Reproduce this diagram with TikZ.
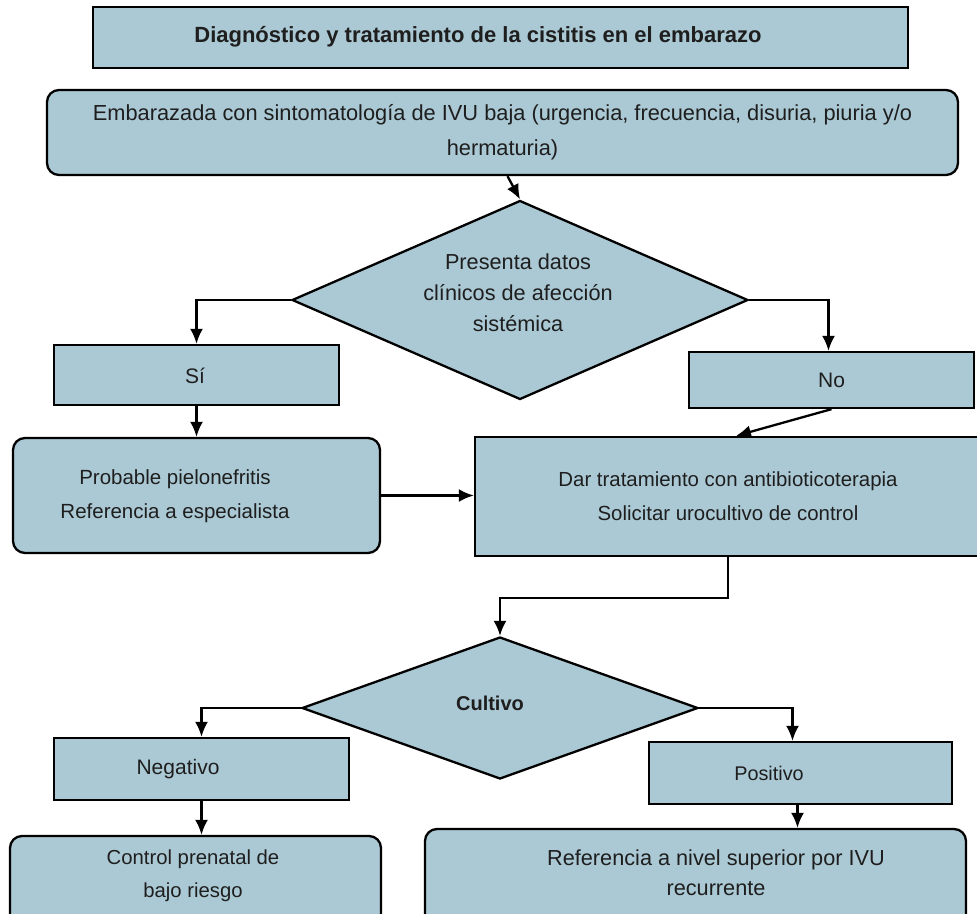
\documentclass[tikz,border=0pt]{standalone}
\usepackage{fontspec}
\setmainfont{Liberation Sans}
\usetikzlibrary{arrows.meta,shapes.geometric}
\definecolor{cajaazul}{HTML}{ABC9D4}
\definecolor{textogris}{HTML}{1E1E1E}

\begin{document}
\begin{tikzpicture}[x=1pt, y=-1pt,
    >={Latex[length=15pt,width=13pt]},
    linea/.style ={line width=2.3pt},
    caja/.style ={rectangle, draw, fill=cajaazul, line width=2.3pt, inner sep=0pt,
                  text=textogris, align=center, font=\fontsize{21}{34}\selectfont},
    redonda/.style ={caja, rounded corners=12pt},
    decision/.style ={diamond, draw, fill=cajaazul, line width=2.3pt, inner sep=0pt},
    texto/.style ={text=textogris, align=center, font=\fontsize{21}{34}\selectfont}]
   \useasboundingbox (0,0) rectangle (977,913);

   \node[caja, minimum width=815, minimum height=61, line width=2.8pt] (titulo) at (500.5,37.5) {};
   \node[texto, font=\fontsize{22}{34}\selectfont\bfseries] (titulotxt) at (478,37)
         {Diagnóstico y tratamiento de la cistitis en el embarazo};
   \node[redonda, minimum width=911, minimum height=85, font=\fontsize{21.8}{35}\selectfont] (sintomas) at (502.5,132.5)
         {Embarazada con sintomatología de IVU baja (urgencia, frecuencia, disuria, piuria y/o\\hermaturia)};

   \node[decision, minimum width=456, minimum height=199] (afeccion) at (520,300) {};
   \node[texto, font=\fontsize{21.7}{31}\selectfont] (afecciontxt) at (518,293)
         {Presenta datos\\clínicos de afección\\sistémica};

   \node[caja, minimum width=285, minimum height=60] (si) at (196.5,375) {};
   \node[texto] (sitxt) at (195,376) {Sí};
   \node[caja, minimum width=285, minimum height=56] (no) at (831.5,380) {No};

   \node[redonda, minimum width=367, minimum height=115] (pielo) at (196.5,495.5) {};
   \node[texto, font=\fontsize{20.5}{34}\selectfont] (pielotxt) at (175,496)
         {Probable pielonefritis\\Referencia a especialista};
   \node[caja, minimum width=506, minimum height=119, font=\fontsize{20.4}{34}\selectfont] (tratamiento) at (728,496.5)
         {Dar tratamiento con antibioticoterapia\\Solicitar urocultivo de control};

   \node[decision, minimum width=396, minimum height=142] (cultivo) at (500,708) {};
   \node[texto, font=\fontsize{20}{34}\selectfont\bfseries] (cultivotxt) at (490,703) {Cultivo};

   \node[caja, minimum width=295, minimum height=62] (negativo) at (201.5,769) {};
   \node[texto] (negativotxt) at (178,769) {Negativo};
   \node[caja, minimum width=303, minimum height=62] (positivo) at (800.5,773) {};
   \node[texto, font=\fontsize{19.8}{34}\selectfont] (positivotxt) at (769,773) {Positivo};

   \node[redonda, minimum width=371, minimum height=94] (control) at (195.5,883) {};
   \node[texto, font=\fontsize{20.3}{33}\selectfont] (controltxt) at (193,876)
         {Control prenatal de\\bajo riesgo};
   \node[redonda, minimum width=541, minimum height=100] (referencia) at (695.5,879) {};
   \node[texto, font=\fontsize{21.7}{30}\selectfont] (referenciatxt) at (716,873)
         {Referencia a nivel superior por IVU\\recurrente};

   \draw[linea, ->] ([xshift=5pt]sintomas.south) to (afeccion.north);
   \draw[linea, ->] (afeccion.west) -| (si.north);
   \draw[linea, ->] (afeccion.east) -| ([xshift=-3pt]no.north);
   \draw[linea, ->] (si.south) to (si.south |- pielo.north);
   \draw[linea, ->] (no.south) to ([xshift=8pt]tratamiento.north);
   \draw[linea, ->] (pielo.east) to (pielo.east -| tratamiento.west);
   \draw[linea, ->] (tratamiento.south) -- ++(0,41) -| (cultivo.north);
   \draw[linea, ->] (cultivo.west) -| (negativo.north);
   \draw[linea, ->] (cultivo.east) -| ([xshift=-8pt]positivo.north);
   \draw[linea, ->] (negativo.south) to (negativo.south |- control.north);
   \draw[linea, ->] ([xshift=-3pt]positivo.south) to ([xshift=-3pt]positivo.south |- referencia.north);
 \end{tikzpicture}
\end{document}
